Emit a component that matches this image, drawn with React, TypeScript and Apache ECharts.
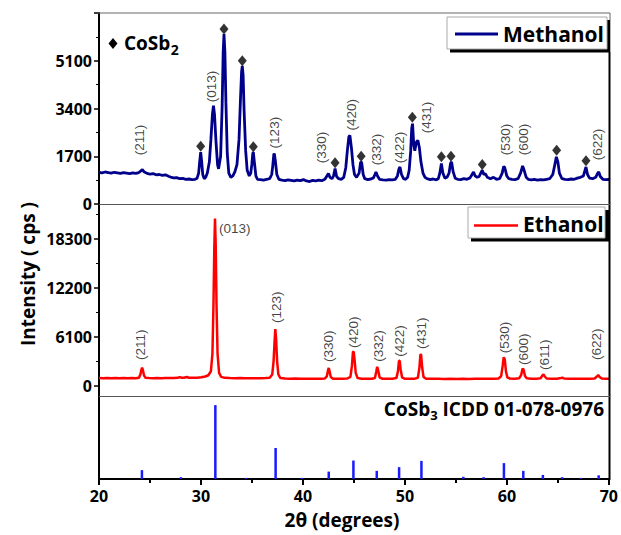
import { useEffect, useRef } from "react";
import * as echarts from "echarts";

// ---------- data ----------
const xRange = [20, 70];
const methanolRange = [0, 6800];
const methanolTickStep = 1700;
const ethanolRange = [-1400, 22600];
const ethanolTicks = [0, 6100, 12200, 18300];
const ethanolMinorTicks = [3050, 9150, 15250, 21350];
const refRange = [0, 111];

// Methanol XRD pattern [2theta, cps]
const methanol: number[][] = [
  [20.0, 1130], [20.3, 1110], [20.6, 1140], [20.9, 1120], [21.2, 1100], [21.5, 1130], [21.8, 1110],
  [22.1, 1090], [22.4, 1120], [22.7, 1100], [23.0, 1080], [23.3, 1110], [23.6, 1090], [23.9, 1120],
  [24.1, 1180], [24.25, 1230], [24.4, 1150], [24.7, 1090], [25.0, 1060], [25.3, 1080], [25.6, 1040],
  [25.9, 1050], [26.2, 1020], [26.5, 1040], [26.8, 990], [27.0, 960], [27.3, 930], [27.6, 940],
  [27.9, 900], [28.2, 910], [28.5, 880], [28.8, 890], [29.1, 870], [29.4, 880], [29.6, 920],
  [29.75, 1100], [29.85, 1500], [29.95, 1850], [30.05, 1500], [30.15, 1050], [30.3, 900], [30.45, 960],
  [30.6, 1100], [30.8, 1500], [30.95, 2300], [31.1, 3200], [31.2, 3500], [31.3, 3200], [31.45, 2200],
  [31.6, 1400], [31.7, 1250], [31.9, 1700], [32.05, 3500], [32.15, 5400], [32.23, 6050], [32.32, 5400],
  [32.42, 3600], [32.55, 1800], [32.7, 1100], [32.9, 950], [33.1, 1000], [33.3, 1150], [33.5, 1400],
  [33.7, 2300], [33.85, 3800], [33.95, 4700], [34.02, 4920], [34.1, 4600], [34.2, 3300], [34.35, 1900],
  [34.5, 1200], [34.7, 1000], [34.85, 1100], [34.95, 1400], [35.05, 1800], [35.1, 1850], [35.2, 1500],
  [35.35, 1000], [35.5, 880], [35.8, 870], [36.1, 850], [36.4, 880], [36.7, 900], [36.9, 1050],
  [37.0, 1350], [37.1, 1750], [37.15, 1800], [37.25, 1550], [37.4, 1050], [37.6, 880], [37.9, 850],
  [38.2, 830], [38.5, 860], [38.8, 840], [39.1, 820], [39.4, 850], [39.7, 830], [40.0, 870],
  [40.3, 820], [40.6, 800], [40.9, 840], [41.2, 820], [41.5, 850], [41.8, 830], [42.1, 880],
  [42.3, 1000], [42.45, 1090], [42.6, 950], [42.8, 900], [42.95, 1000], [43.1, 1260], [43.25, 980],
  [43.45, 900], [43.7, 880], [43.95, 950], [44.15, 1300], [44.3, 1900], [44.45, 2400], [44.55, 2440],
  [44.7, 2000], [44.85, 1400], [45.0, 1050], [45.2, 950], [45.45, 1100], [45.6, 1500], [45.7, 1480],
  [45.85, 1050], [46.0, 900], [46.3, 870], [46.6, 890], [46.85, 930], [47.0, 1050], [47.1, 1140],
  [47.25, 1000], [47.45, 880], [47.8, 860], [48.1, 850], [48.4, 870], [48.7, 860], [49.0, 880],
  [49.2, 1000], [49.35, 1250], [49.45, 1320], [49.6, 1050], [49.8, 900], [50.0, 880], [50.2, 950],
  [50.35, 1200], [50.5, 1900], [50.6, 2700], [50.68, 2860], [50.8, 2100], [50.9, 1900], [51.05, 2200],
  [51.2, 2270], [51.35, 2000], [51.5, 1500], [51.7, 1100], [51.9, 950], [52.1, 900], [52.4, 870],
  [52.7, 890], [53.0, 860], [53.2, 900], [53.35, 1100], [53.5, 1440], [53.65, 1100], [53.85, 920],
  [54.05, 950], [54.25, 1100], [54.4, 1450], [54.5, 1500], [54.65, 1150], [54.85, 920], [55.1, 880],
  [55.4, 870], [55.7, 900], [56.0, 880], [56.3, 930], [56.5, 1050], [56.65, 1140], [56.8, 1000],
  [57.0, 950], [57.2, 980], [57.35, 1100], [57.5, 1200], [57.65, 1050], [57.8, 1080], [58.0, 950],
  [58.3, 900], [58.6, 950], [58.9, 880], [59.2, 900], [59.45, 1100], [59.6, 1340], [59.7, 1300],
  [59.9, 1000], [60.1, 900], [60.4, 880], [60.7, 870], [61.0, 900], [61.25, 1100], [61.45, 1355],
  [61.6, 1200], [61.8, 950], [62.0, 880], [62.3, 860], [62.6, 880], [62.9, 850], [63.2, 870],
  [63.5, 860], [63.8, 880], [64.1, 900], [64.4, 1050], [64.6, 1400], [64.75, 1680], [64.9, 1500],
  [65.05, 1100], [65.3, 900], [65.6, 880], [65.9, 870], [66.2, 890], [66.5, 880], [66.8, 920],
  [67.1, 950], [67.4, 1000], [67.55, 1200], [67.65, 1320], [67.8, 1050], [68.0, 920], [68.3, 900],
  [68.6, 950], [68.8, 1100], [68.9, 1140], [69.05, 980], [69.3, 880], [69.6, 870], [69.9, 880], [70.0, 870],
];

// Ethanol XRD pattern [2theta, cps]
const ethanol: number[][] = [
  [20.0, 950], [20.4, 930], [20.8, 960], [21.2, 940], [21.6, 950], [22.0, 930], [22.4, 960], [22.8, 940],
  [23.2, 950], [23.6, 940], [23.9, 980], [24.05, 1400], [24.15, 2000], [24.22, 2250], [24.3, 1900],
  [24.4, 1300], [24.55, 980], [24.9, 950], [25.3, 930], [25.7, 950], [26.1, 940], [26.5, 960],
  [26.9, 950], [27.3, 960], [27.7, 980], [27.9, 1080], [28.05, 1000], [28.3, 990], [28.6, 1080],
  [28.8, 1000], [29.2, 990], [29.6, 1000], [30.0, 1050], [30.4, 1150], [30.7, 1300], [30.95, 1800],
  [31.1, 4000], [31.2, 10000], [31.28, 17000], [31.35, 20800], [31.42, 17500], [31.5, 10000],
  [31.6, 4000], [31.75, 1600], [31.95, 1100], [32.3, 980], [32.8, 950], [33.3, 930], [33.8, 950],
  [34.3, 920], [34.8, 940], [35.3, 930], [35.8, 940], [36.3, 950], [36.7, 1000], [36.95, 1400],
  [37.08, 3000], [37.18, 5500], [37.25, 7050], [37.33, 5800], [37.43, 3000], [37.55, 1400],
  [37.75, 950], [38.2, 900], [38.7, 880], [39.2, 890], [39.7, 870], [40.2, 880], [40.7, 870],
  [41.2, 880], [41.7, 870], [42.1, 900], [42.3, 1200], [42.42, 2000], [42.48, 2200], [42.56, 1800],
  [42.68, 1100], [42.9, 880], [43.3, 870], [43.8, 880], [44.3, 900], [44.6, 1100], [44.75, 2500],
  [44.85, 4200], [44.92, 4250], [45.0, 3300], [45.12, 1600], [45.3, 950], [45.7, 880], [46.2, 870],
  [46.7, 880], [47.0, 950], [47.12, 1700], [47.22, 2350], [47.32, 1900], [47.45, 1050], [47.7, 880],
  [48.2, 870], [48.7, 880], [49.1, 950], [49.25, 1800], [49.35, 3100], [49.42, 3100], [49.52, 2000],
  [49.65, 1050], [49.9, 880], [50.4, 870], [50.9, 880], [51.2, 1000], [51.35, 2200], [51.45, 3900],
  [51.52, 3850], [51.62, 2300], [51.75, 1100], [52.0, 880], [52.6, 860], [53.2, 870], [53.8, 850],
  [54.4, 860], [55.0, 850], [55.6, 860], [56.2, 850], [56.8, 860], [57.4, 870], [58.0, 860],
  [58.6, 880], [59.1, 900], [59.35, 1200], [59.5, 2500], [59.6, 3550], [59.7, 3300], [59.82, 1800],
  [59.95, 1050], [60.2, 900], [60.7, 880], [61.1, 920], [61.3, 1300], [61.45, 2150], [61.55, 2000],
  [61.68, 1200], [61.85, 920], [62.3, 880], [62.8, 870], [63.2, 920], [63.4, 1300], [63.5, 1420],
  [63.62, 1150], [63.8, 900], [64.3, 880], [64.8, 870], [65.2, 960], [65.35, 1000], [65.5, 900],
  [66.0, 870], [66.5, 860], [67.0, 870], [67.5, 860], [68.0, 870], [68.5, 900], [68.75, 1200],
  [68.85, 1330], [68.98, 1100], [69.2, 900], [69.6, 870], [70.0, 860],
];

// CoSb2 (diamond) marks above the methanol peaks [2theta, cps]
const cosb2Marks: number[][] = [
  [29.95, 2060], [32.23, 6230], [34.02, 5100], [35.1, 2040], [43.1, 1470], [45.65, 1700],
  [50.66, 3090], [53.5, 1680], [54.44, 1700], [57.5, 1410], [64.78, 1910], [67.65, 1540],
];

// Miller-index annotations [2theta, cps at label start, text]
const methanolLabels: (number | string)[][] = [
  [24.0, 1735, "(211)"], [31.0, 3620, "(013)"], [37.2, 1980, "(123)"], [41.8, 1450, "(330)"],
  [44.7, 2620, "(420)"], [47.2, 1380, "(332)"], [49.4, 1450, "(422)"], [52.0, 2515, "(431)"],
  [59.8, 1735, "(530)"], [61.5, 1735, "(600)"], [68.75, 1560, "(622)"],
];
const ethanolLabels: (number | string)[][] = [
  [24.1, 3200, "(211)"], [37.4, 7800, "(123)"], [42.5, 2950, "(330)"], [44.9, 4700, "(420)"],
  [47.3, 2990, "(332)"], [49.45, 3610, "(422)"], [51.6, 4570, "(431)"], [59.7, 4030, "(530)"],
  [61.5, 2580, "(600)"], [63.6, 1950, "(611)"], [68.7, 3200, "(622)"],
];
const ethanolMainLabel: (number | string)[] = [31.75, 19600, "(013)"];

// CoSb3 ICDD 01-078-0976 reference lines
const refPositions = [24.21, 28.03, 31.41, 34.43, 37.32, 39.91, 42.53, 44.95, 47.24, 49.43, 51.62,
  55.73, 57.72, 59.71, 61.61, 63.53, 65.42, 67.25, 69.0];
const refIntensities = [12, 2.5, 100, 1.5, 42, 1.5, 10, 25, 11, 16, 24.5, 3, 2.5, 21.5, 11, 5.5, 2.5, 1.5, 5];

// ---------- styling ----------
const BOLD = "Open Sans";
const LEFT = 99;
const RIGHT = 610;
const W = RIGHT - LEFT;

function textWidth(text: string, font: string): number {
  const ctx = document.createElement("canvas").getContext("2d");
  if (!ctx) return text.length * 9;
  ctx.font = font;
  return ctx.measureText(text).width;
}

export default function App() {
  const ref = useRef<HTMLDivElement>(null);

  useEffect(() => {
    if (!ref.current) return;
    const chart = echarts.init(ref.current, undefined, { renderer: "svg" });

    const blackLine = { show: true, lineStyle: { color: "#000", width: 2 } };
    const plain = (v: number) => String(v);
    const rotLabel = {
      show: true,
      position: "inside",
      rotate: 90,
      align: "left",
      verticalAlign: "middle",
      fontFamily: "Liberation Sans",
      fontSize: 13.5,
      color: "#111",
      formatter: (p: any) => p.value[2],
    };

    // bottom-panel caption pieces
    const capFont = `bold 19px "${BOLD}"`;
    const subFont = `bold 13px "${BOLD}"`;
    const c1 = "CoSb", c2 = "3", c3 = " ICDD 01-078-0976";
    const w1 = textWidth(c1, capFont), w2 = textWidth(c2, subFont), w3 = textWidth(c3, capFont);
    const capRight = 604;
    const capX = capRight - (w1 + w2 + w3);

    const legFont = `bold 19px "${BOLD}"`;
    const wCo = textWidth("CoSb", legFont);

    const option: any = {
      animation: false,
      backgroundColor: "#fff",
      grid: [
        { left: LEFT, width: W, top: 13, height: 191 },
        { left: LEFT, width: W, top: 204, height: 193 },
        { left: LEFT, width: W, top: 397, height: 82 },
      ],
      xAxis: [
        { type: "value", gridIndex: 0, min: xRange[0], max: xRange[1], show: false },
        { type: "value", gridIndex: 1, min: xRange[0], max: xRange[1], show: false },
        {
          type: "value", gridIndex: 2, min: xRange[0], max: xRange[1], interval: 10,
          axisLine: blackLine,
          axisTick: { show: true, inside: false, length: 6, lineStyle: { color: "#000", width: 2 } },
          minorTick: { show: true, splitNumber: 2, length: 4, lineStyle: { color: "#000", width: 2 } },
          axisLabel: { formatter: plain, fontFamily: BOLD, fontWeight: "bold", fontSize: 16, color: "#000", margin: 9 },
          splitLine: { show: false },
        },
      ],
      yAxis: [
        {
          type: "value", gridIndex: 0, min: methanolRange[0], max: methanolRange[1], interval: methanolTickStep,
          axisLine: blackLine,
          axisTick: { show: true, length: 5, lineStyle: { color: "#000", width: 1.5 } },
          minorTick: { show: true, splitNumber: 2, length: 3, lineStyle: { color: "#000", width: 1 } },
          axisLabel: { formatter: plain, showMaxLabel: false, fontFamily: BOLD, fontWeight: "bold", fontSize: 16, color: "#000", margin: 7 },
          splitLine: { show: false },
        },
        {
          type: "value", gridIndex: 1, min: ethanolRange[0], max: ethanolRange[1],
          axisLine: blackLine,
          axisTick: { show: true, length: 5, customValues: ethanolTicks, lineStyle: { color: "#000", width: 1.5 } },
          axisLabel: { formatter: plain, customValues: ethanolTicks, fontFamily: BOLD, fontWeight: "bold", fontSize: 16, color: "#000", margin: 7 },
          splitLine: { show: false },
        },
        {
          type: "value", gridIndex: 2, min: refRange[0], max: refRange[1],
          axisLine: blackLine, axisTick: { show: false }, axisLabel: { show: false }, splitLine: { show: false },
        },
        {
          type: "value", gridIndex: 1, min: ethanolRange[0], max: ethanolRange[1], position: "left",
          axisLine: { show: false },
          axisTick: { show: true, length: 3, customValues: ethanolMinorTicks, lineStyle: { color: "#000", width: 1 } },
          axisLabel: { show: false }, splitLine: { show: false },
        },
      ],
      series: [
        {
          name: "Methanol", type: "line", xAxisIndex: 0, yAxisIndex: 0, data: methanol,
          showSymbol: false, lineStyle: { color: "#00008b", width: 2.8 }, itemStyle: { color: "#00008b" }, z: 3,
        },
        {
          name: "CoSb2", type: "scatter", xAxisIndex: 0, yAxisIndex: 0, data: cosb2Marks,
          symbol: "diamond", symbolSize: [9, 11], itemStyle: { color: "#000" }, z: 5,
        },
        {
          type: "scatter", xAxisIndex: 0, yAxisIndex: 0, data: methanolLabels, symbolSize: 0,
          label: rotLabel, z: 6, silent: true,
        },
        {
          name: "Ethanol", type: "line", xAxisIndex: 1, yAxisIndex: 1, data: ethanol,
          showSymbol: false, lineStyle: { color: "#ff0000", width: 2.5 }, itemStyle: { color: "#ff0000" }, z: 3,
        },
        {
          type: "scatter", xAxisIndex: 1, yAxisIndex: 1, symbolSize: 0, z: 6, silent: true,
          label: rotLabel,
          data: [
            ...ethanolLabels,
            { value: ethanolMainLabel, label: { rotate: 0, align: "left", verticalAlign: "middle" } },
          ],
        },
        {
          name: "CoSb3 ICDD 01-078-0976", type: "bar", xAxisIndex: 2, yAxisIndex: 2,
          data: refPositions.map((p, i) => [p, refIntensities[i]]),
          barWidth: 2.5, itemStyle: { color: "#1a1aff" }, z: 3,
        },
      ],
      graphic: [
        // frame
        { type: "line", shape: { x1: LEFT - 1, y1: 13, x2: RIGHT, y2: 13 }, style: { stroke: "#666", lineWidth: 1 }, z: 10 },
        { type: "line", shape: { x1: RIGHT, y1: 13, x2: RIGHT, y2: 52 }, style: { stroke: "#666", lineWidth: 1 }, z: 10 },
        { type: "line", shape: { x1: RIGHT - 0.5, y1: 52, x2: RIGHT - 0.5, y2: 480 }, style: { stroke: "#000", lineWidth: 2 }, z: 10 },
        { type: "line", shape: { x1: LEFT, y1: 204.5, x2: RIGHT, y2: 204.5 }, style: { stroke: "#555", lineWidth: 1 }, z: 10 },
        { type: "line", shape: { x1: LEFT, y1: 396.5, x2: RIGHT, y2: 396.5 }, style: { stroke: "#555", lineWidth: 1 }, z: 10 },
        // Methanol legend
        { type: "rect", shape: { x: 450, y: 20, width: 160, height: 32.5 }, style: { fill: "#000" }, z: 20 },
        { type: "rect", shape: { x: 447, y: 17, width: 160, height: 32 }, style: { fill: "#fff", stroke: "#aaa", lineWidth: 1 }, z: 21 },
        { type: "line", shape: { x1: 455, y1: 34, x2: 498, y2: 34 }, style: { stroke: "#00008b", lineWidth: 2.8 }, z: 22 },
        { type: "text", x: 503, y: 34, style: { text: "Methanol", font: `bold 21px "${BOLD}"`, fill: "#000", verticalAlign: "middle" }, z: 22 },
        // Ethanol legend
        { type: "rect", shape: { x: 471, y: 210, width: 138, height: 31.5 }, style: { fill: "#000" }, z: 20 },
        { type: "rect", shape: { x: 468, y: 207, width: 137, height: 31 }, style: { fill: "#fff", stroke: "#aaa", lineWidth: 1 }, z: 21 },
        { type: "line", shape: { x1: 474, y1: 225.5, x2: 518, y2: 225.5 }, style: { stroke: "#ff0000", lineWidth: 2.5 }, z: 22 },
        { type: "text", x: 523, y: 224, style: { text: "Ethanol", font: `bold 21px "${BOLD}"`, fill: "#000", verticalAlign: "middle" }, z: 22 },
        // CoSb2 marker key
        { type: "polygon", shape: { points: [[113, 38], [117.5, 43.5], [113, 49], [108.5, 43.5]] }, style: { fill: "#000" }, z: 22 },
        { type: "text", x: 124, y: 43, style: { text: "CoSb", font: legFont, fill: "#000", verticalAlign: "middle" }, z: 22 },
        { type: "text", x: 124 + wCo + 0.5, y: 49, style: { text: "2", font: `bold 14px "${BOLD}"`, fill: "#000", verticalAlign: "middle" }, z: 22 },
        // CoSb3 caption
        { type: "text", x: capX, y: 409, style: { text: c1, font: capFont, fill: "#000", verticalAlign: "middle" }, z: 22 },
        { type: "text", x: capX + w1, y: 415, style: { text: c2, font: subFont, fill: "#000", verticalAlign: "middle" }, z: 22 },
        { type: "text", x: capX + w1 + w2, y: 409, style: { text: c3, font: capFont, fill: "#000", verticalAlign: "middle" }, z: 22 },
        // axis titles
        {
          type: "text", x: 28, y: 274, rotation: Math.PI / 2,
          style: { text: "Intensity ( cps )", font: `bold 19px "${BOLD}"`, fill: "#000", align: "center", verticalAlign: "middle" }, z: 22,
        },
        {
          type: "text", x: 342, y: 520,
          style: { text: "2θ (degrees)", font: `bold 19px "${BOLD}"`, fill: "#000", align: "center", verticalAlign: "middle" }, z: 22,
        },
      ],
    };

    chart.setOption(option);
    return () => chart.dispose();
  }, []);

  return <div ref={ref} style={{ width: 621, height: 535, position: "absolute", left: 0, top: 0 }} />;
}
